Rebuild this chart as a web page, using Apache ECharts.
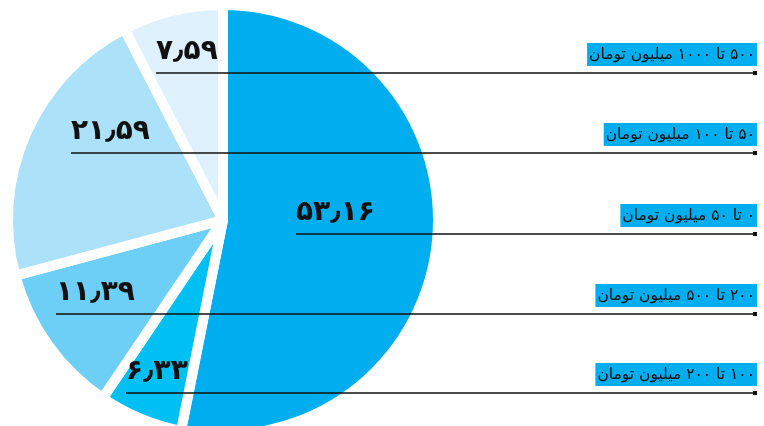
<!DOCTYPE html>
<html>
<head>
<meta charset="utf-8">
<script src="https://cdn.jsdelivr.net/npm/echarts@6/dist/echarts.min.js"></script>
<style>
  html, body { margin: 0; padding: 0; background: #ffffff; }
  /* rtl so the canvas lays out Persian text in the right order */
  #chart { width: 764px; height: 426px; direction: rtl; }
</style>
</head>
<body>
<div id="chart"></div>
<script>
// slices, clockwise from 12 o'clock
const categories = [
  '۰ تا ۵۰ میلیون تومان',
  '۱۰۰ تا ۲۰۰ میلیون تومان',
  '۲۰۰ تا ۵۰۰ میلیون تومان',
  '۵۰ تا ۱۰۰ میلیون تومان',
  '۵۰۰ تا ۱۰۰۰ میلیون تومان'
]
const shares = [53.16, 6.33, 11.39, 21.59, 7.59]

// styling / label anchors (not data)
const sliceColors = ['#00AEEF', '#00BFF3', '#6DCFF6', '#ACE1FA', '#DFF1FC']
const labelLeft = [296, 126, 56, 71, 156]
const ruleY = [234, 393, 314, 153, 73]
const ruleRight = 757

const faDigits = '۰۱۲۳۴۵۶۷۸۹'
function toFa(v) {
  return String(v).replace('.', '٫').replace(/\d/g, d => faDigits[d])
}

const chart = echarts.init(document.getElementById('chart'))

const option = {
  animation: false,
  series: [{
    type: 'pie',
    center: [223, 220],
    radius: 215,
    startAngle: 90,
    clockwise: true,
    avoidLabelOverlap: false,
    emphasis: { disabled: true },
    itemStyle: {
      borderColor: '#ffffff',
      borderWidth: 10
    },
    labelLine: { show: false },
    label: {
      show: true,
      position: 'inside',
      formatter: (p) => `{num|${toFa(p.value)}}{cat|${p.name}}\n{hr|}{dot|}`,
      rich: {
        num: {
          fontFamily: 'DejaVu Sans',
          fontWeight: 'bold',
          fontSize: 28,
          color: '#111111',
          lineHeight: 22,
          padding: [8, 0, 0, 0],
          verticalAlign: 'bottom'
        },
        cat: {
          align: 'right',
          fontFamily: 'DejaVu Sans',
          fontSize: 15.5,
          color: '#111111',
          backgroundColor: '#00AEEF',
          padding: [0, 2],
          height: 23,
          lineHeight: 30,
          verticalAlign: 'bottom'
        },
        hr: {
          width: '100%',
          height: 0,
          borderColor: '#111111',
          borderWidth: 1.3,
          lineHeight: 14
        },
        dot: {
          align: 'right',
          width: 4,
          height: 4,
          backgroundColor: '#111111',
          lineHeight: 14
        }
      }
    },
    labelLayout: (p) => ({
      x: labelLeft[p.dataIndex],
      y: ruleY[p.dataIndex] + 7,
      align: 'left',
      verticalAlign: 'bottom',
      width: ruleRight - labelLeft[p.dataIndex]
    }),
    data: shares.map((v, i) => ({
      name: categories[i],
      value: v,
      itemStyle: { color: sliceColors[i] }
    }))
  }]
}

chart.setOption(option)
</script>
</body>
</html>
